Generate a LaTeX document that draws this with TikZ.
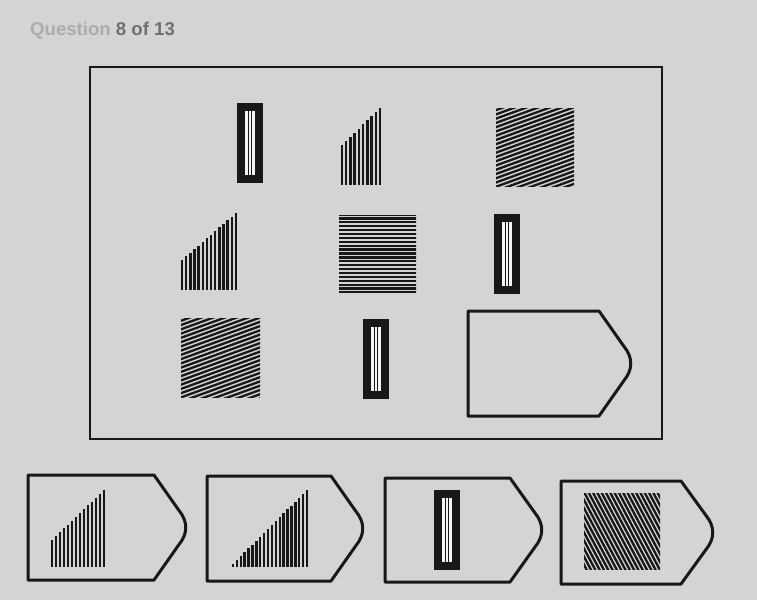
\documentclass[tikz,border=0pt]{standalone}
\usepackage{fontspec}
\setmainfont{Liberation Sans}

\definecolor{bgcol}{RGB}{212,212,212}
\definecolor{inkcol}{RGB}{24,24,26}
\definecolor{qfaint}{RGB}{172,172,172}
\definecolor{qdark}{RGB}{112,112,112}

\tikzset{
	frameline/.style={draw=inkcol, line width=2.6pt},
	tagline/.style={draw=inkcol, line width=3pt, line join=round},
	rampline/.style={draw=inkcol, line width=2.4pt},
	hatchline/.style={draw=inkcol, line width=2.3pt},
}

% tall black bar with three light stripes, #1,#2 = top left corner
\newcommand{\barcode}[2]{%
	\fill[inkcol] (#1,#2) rectangle ++(26,80);
	\fill[white!92!gray] ({#1+8},{#2+8}) rectangle ++(10,64);
	\draw[inkcol, line width=1.2pt] ({#1+11.3},{#2+8}) -- ++(0,64);
	\draw[inkcol, line width=1.2pt] ({#1+14.7},{#2+8}) -- ++(0,64);
}

% vertical lines rising left to right: x, bottom, width, first height, last height, count
\newcommand{\ramp}[6]{%
	\foreach \i in {1,...,#6}{
		\pgfmathsetmacro{\rx}{#1+(\i-1)*#3/(#6-1)}
		\pgfmathsetmacro{\rh}{#4+(\i-1)*(#5-#4)/(#6-1)}
		\draw[rampline] (\rx,#2) -- (\rx,{#2-\rh});
	}
}

% striped square: x, y, size, angle, spacing
\newcommand{\hatch}[5]{%
	\begin{scope}
		\clip (#1,#2) rectangle ++(#3,#3);
		\foreach \k in {-30,...,30}
			\draw[hatchline, rotate around={#4:({#1+#3/2},{#2+#3/2})}]
				({#1+#3/2-80},{#2+#3/2+\k*#5}) -- ++(160,0);
	\end{scope}
}

% tag shaped box: x1, y1, x2 (tip), y2
\newcommand{\pentag}[4]{%
	\draw[tagline] (#1,#2) -- ({#3-33},#2) -- ({#3-8},{(#2+#4)/2-17})
		.. controls ({#3+1},{(#2+#4)/2-6}) and ({#3+1},{(#2+#4)/2+6}) .. ({#3-8},{(#2+#4)/2+17})
		-- ({#3-33},#4) -- (#1,#4) -- cycle;
}

\begin{document}
\begin{tikzpicture}[x=1pt, y=-1pt]
	\useasboundingbox (0,0) rectangle (757,600);
	\fill[bgcol] (0,0) rectangle (757,600);

	% title
	\node[anchor=base west, inner sep=0pt, text=qdark, font=\fontsize{18.6}{21}\selectfont\bfseries]
		(title) at (30,35) {\textcolor{qfaint}{Question} 8 of 13};

	% puzzle frame
	\draw[frameline] (90,67) rectangle (662,439);

	% row 1
	\barcode{237}{103}
	\ramp{342}{185}{38}{40}{77}{10}
	\hatch{496}{108}{78}{20}{4}

	% row 2
	\ramp{182}{290}{54}{30}{77}{14}
	\hatch{339}{215}{77}{0}{3.9}
	\barcode{494}{214}

	% row 3
	\hatch{181}{318}{79}{20}{4}
	\barcode{363}{319}
	\pentag{468}{311}{632}{416}

	% answer options
	\pentag{28}{475}{187}{580}
	\ramp{52}{567}{52}{27}{77}{14}

	\pentag{207}{476}{364}{581}
	\ramp{233}{567}{74}{3}{77}{20}

	\pentag{385}{478}{543}{582}
	\barcode{434}{490}

	\pentag{561}{481}{714}{584}
	\hatch{584}{493}{76}{-62}{3.8}
\end{tikzpicture}
\end{document}
